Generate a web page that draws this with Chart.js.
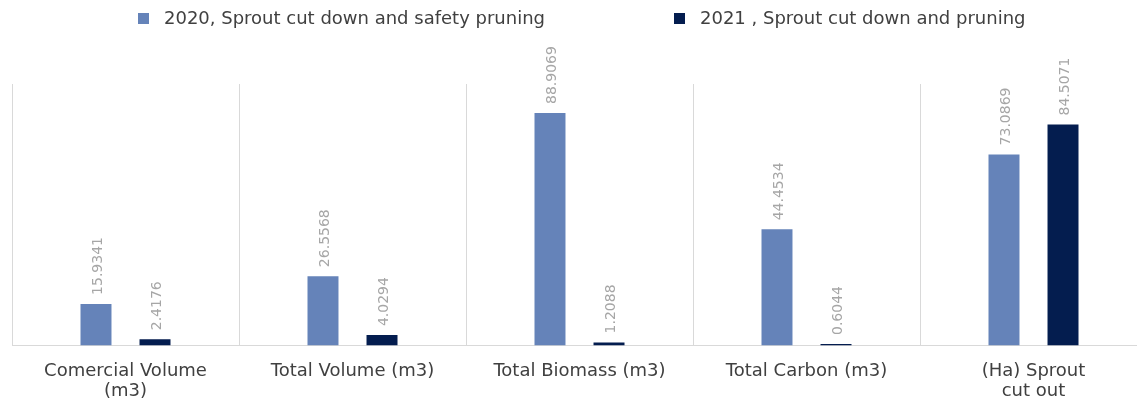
<!DOCTYPE html>
<html>
<head>
<meta charset="utf-8">
<script src="https://cdn.jsdelivr.net/npm/chart.js@4/dist/chart.umd.min.js"></script>
<style>
html,body{margin:0;padding:0;background:#fff;overflow:hidden;width:1137px;height:408px;}
#wrap{position:relative;width:1160px;height:408px;overflow:hidden;}
</style>
</head>
<body>
<div id="wrap"><canvas id="c" width="1160" height="417"></canvas></div>
<script>
const categories = [["Comercial Volume","(m3)"], "Total Volume (m3)", "Total Biomass (m3)", "Total Carbon (m3)", ["(Ha) Sprout","cut out"]];
const series2020 = [15.9341, 26.5568, 88.9069, 44.4534, 73.0869];
const series2021 = [2.4176, 4.0294, 1.2088, 0.6044, 84.5071];
const seriesNames = ["2020, Sprout cut down and safety pruning", "2021 , Sprout cut down and pruning"];
const seriesColors = ["#6583b9", "#041d4f"];

const FONT = "'DejaVu Sans', Verdana, sans-serif";

const valueLabels = {
  id: 'valueLabels',
  afterDatasetsDraw(chart) {
    const ctx = chart.ctx;
    ctx.save();
    ctx.font = "14px " + FONT;
    ctx.fillStyle = "#a6a6a6";
    ctx.textAlign = "left";
    ctx.textBaseline = "middle";
    chart.data.datasets.forEach((ds, di) => {
      const meta = chart.getDatasetMeta(di);
      meta.data.forEach((bar, i) => {
        ctx.save();
        ctx.translate(bar.x + 2, bar.y - 9);
        ctx.rotate(-Math.PI / 2);
        ctx.fillText(String(ds.data[i]), 0, 0);
        ctx.restore();
      });
    });
    ctx.restore();
  }
};

const topLegend = {
  id: 'topLegend',
  afterDraw(chart) {
    const ctx = chart.ctx;
    ctx.save();
    ctx.font = "18px " + FONT;
    ctx.textBaseline = "middle";
    ctx.textAlign = "left";
    const xs = [138, 674];
    chart.data.datasets.forEach((ds, di) => {
      ctx.fillStyle = ds.backgroundColor;
      ctx.fillRect(xs[di], 13, 11, 11);
      ctx.fillStyle = "#404040";
      ctx.fillText(ds.label, xs[di] + 26, 19);
    });
    ctx.restore();
  }
};

new Chart(document.getElementById('c'), {
  type: 'bar',
  data: {
    labels: categories,
    datasets: [
      { label: seriesNames[0], data: series2020, backgroundColor: seriesColors[0], borderWidth: 0 },
      { label: seriesNames[1], data: series2021, backgroundColor: seriesColors[1], borderWidth: 0 }
    ]
  },
  options: {
    responsive: false,
    animation: false,
    categoryPercentage: 0.52,
    barPercentage: 0.525,
    layout: { padding: { top: 84, left: 12, right: 13, bottom: 0 } },
    plugins: { legend: { display: false }, tooltip: { enabled: false } },
    scales: {
      x: {
        grid: { display: true, offset: true, color: "#d9d9d9", drawTicks: false },
        border: { display: true, color: "#d9d9d9" },
        ticks: { color: "#404040", font: { family: FONT, size: 18, lineHeight: 1.15 }, padding: 15, maxRotation: 0, autoSkip: false }
      },
      y: {
        display: false,
        min: 0, max: 100
      }
    }
  },
  plugins: [valueLabels, topLegend]
});
</script>
</body>
</html>
